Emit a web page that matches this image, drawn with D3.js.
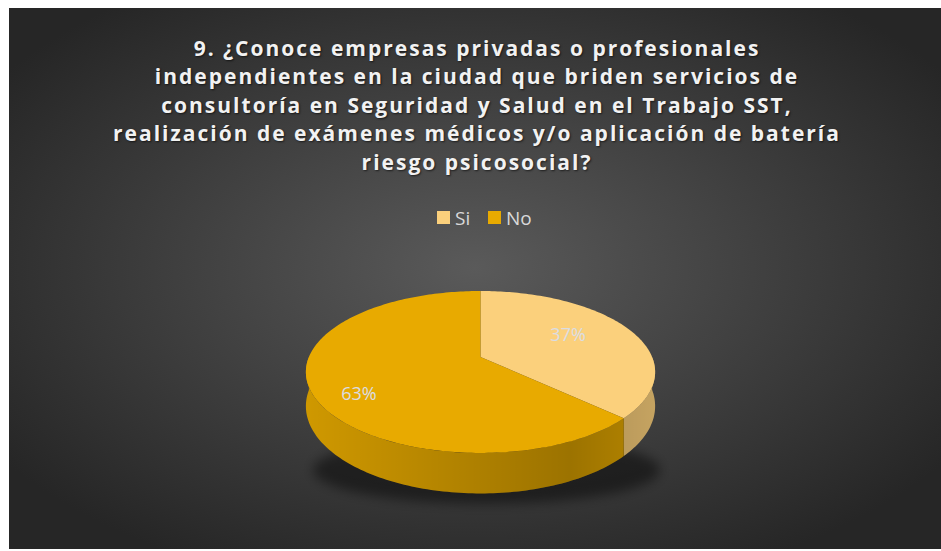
<!DOCTYPE html>
<html>
<head>
<meta charset="utf-8">
<script src="https://cdn.jsdelivr.net/npm/d3@7"></script>
<style>
  body { margin: 0; background: #fff; }
  text { font-family: "Open Sans", sans-serif; }
</style>
</head>
<body>
<div id="chart"></div>
<script>
// Chart data
const categories = ["Si", "No"];
const values = [37, 63];
const titleLines = [
    "9. ¿Conoce empresas privadas o profesionales",
    "independientes en la ciudad que briden servicios de",
    "consultoría en Seguridad y Salud en el Trabajo SST,",
    "realización de exámenes médicos y/o aplicación de batería",
    "riesgo psicosocial?"
];

// Colours per category
const colors = d3.scaleOrdinal()
    .domain(categories)
    .range(["#fbd07c", "#e8aa00"]);

// Set up dimensions
const width = 941;
const height = 551;

const svg = d3.select("#chart")
    .append("svg")
    .attr("width", width)
    .attr("height", height);

const defs = svg.append("defs");

// Background gradient
const bg = defs.append("radialGradient")
    .attr("id", "bg")
    .attr("cx", "50%").attr("cy", "48%").attr("r", "62%");
bg.append("stop").attr("offset", "0%").attr("stop-color", "#5a5a5a");
bg.append("stop").attr("offset", "100%").attr("stop-color", "#262626");

// Side shading (darker toward the right)
const sideShade = defs.append("linearGradient")
    .attr("id", "sideShade")
    .attr("gradientUnits", "userSpaceOnUse")
    .attr("x1", 300).attr("x2", 660).attr("y1", 0).attr("y2", 0);
sideShade.append("stop").attr("offset", "0%").attr("stop-color", "#000").attr("stop-opacity", 0.0);
sideShade.append("stop").attr("offset", "75%").attr("stop-color", "#000").attr("stop-opacity", 0.25);
sideShade.append("stop").attr("offset", "100%").attr("stop-color", "#000").attr("stop-opacity", 0.12);

const blur = defs.append("filter").attr("id", "blur")
    .attr("x", "-20%").attr("y", "-50%").attr("width", "140%").attr("height", "200%");
blur.append("feGaussianBlur").attr("stdDeviation", 6);

svg.append("rect")
    .attr("x", 9).attr("y", 8)
    .attr("width", width - 9).attr("height", height - 10)
    .attr("fill", "url(#bg)");

// Title
svg.append("g")
    .selectAll("text")
    .data(titleLines)
    .enter().append("text")
    .attr("x", 477)
    .attr("y", (d, i) => 56 + i * 28.4)
    .attr("text-anchor", "middle")
    .attr("fill", "#f2f2f2")
    .attr("font-size", 21)
    .attr("font-weight", "bold")
    .attr("letter-spacing", 2)
    .style("text-shadow", "1px 1px 2px rgba(0,0,0,0.6)")
    .text(d => d);

// Legend
const legend = svg.append("g");
const legendX = d3.scalePoint().domain(categories).range([437, 488]);
legend.selectAll("rect")
    .data(categories)
    .enter().append("rect")
    .attr("x", d => legendX(d))
    .attr("y", 211)
    .attr("width", 13).attr("height", 13)
    .attr("fill", d => colors(d));
legend.selectAll("text")
    .data(categories)
    .enter().append("text")
    .attr("x", d => legendX(d) + 18)
    .attr("y", 225)
    .attr("fill", "#d9d9d9")
    .attr("font-size", 19)
    .text(d => d);

// 3D pie geometry
const cx = 480.5, cy = 357;
const rx = 171.6, ry = 78.2;
const persp = 0.185;
const depth = 33;

function proj(theta, f, dz) {
    const x = Math.sin(theta) * f;
    const z = -Math.cos(theta) * f;
    const s = 1 / (1 - persp * z);
    return [cx + rx * x * s, cy + ry * z * s + dz * s];
}

function arcPoints(a0, a1, dz) {
    const n = Math.max(2, Math.ceil((a1 - a0) / 0.02));
    return d3.range(n + 1).map(i => proj(a0 + (a1 - a0) * i / n, 1, dz));
}

const pie = d3.pie().sort(null).value(d => d.value);
const slices = pie(categories.map((c, i) => ({ name: c, value: values[i] })));

const line = d3.line();

// Shadow under the pie
svg.append("ellipse")
    .attr("cx", cx + 6).attr("cy", 470)
    .attr("rx", rx + 2).attr("ry", 34)
    .attr("fill", "rgba(0,0,0,0.45)")
    .attr("filter", "url(#blur)");

// Sides (front half only)
const sides = slices.filter(d => d.endAngle > Math.PI / 2 && d.startAngle < 3 * Math.PI / 2)
    .map(d => {
        const t0 = Math.max(d.startAngle, Math.PI / 2);
        const t1 = Math.min(d.endAngle, 3 * Math.PI / 2);
        const pts = arcPoints(t0, t1, 0).concat(arcPoints(t0, t1, depth).reverse());
        return { d, pts };
    });

const sideG = svg.append("g");
sideG.selectAll("path.side")
    .data(sides)
    .enter().append("path")
    .attr("class", "side")
    .attr("d", s => line(s.pts) + "Z")
    .attr("fill", s => d3.color(colors(s.d.data.name)).darker(0.3));
sideG.selectAll("path.shade")
    .data(sides)
    .enter().append("path")
    .attr("class", "shade")
    .attr("d", s => line(s.pts) + "Z")
    .attr("fill", "url(#sideShade)");

// Top faces
svg.append("g")
    .selectAll("path")
    .data(slices)
    .enter().append("path")
    .attr("d", d => line([[cx, cy]].concat(arcPoints(d.startAngle, d.endAngle, 0))) + "Z")
    .attr("fill", d => colors(d.data.name));

// Data labels
const labelRadius = [0.58, 0.73];
const labelDy = [-6, 12];
svg.append("g")
    .selectAll("text")
    .data(slices)
    .enter().append("text")
    .attr("x", (d, i) => proj((d.startAngle + d.endAngle) / 2, labelRadius[i], 0)[0])
    .attr("y", (d, i) => proj((d.startAngle + d.endAngle) / 2, labelRadius[i], 0)[1] + labelDy[i])
    .attr("text-anchor", "middle")
    .attr("dominant-baseline", "central")
    .attr("fill", "#dadde3")
    .attr("font-size", 18)
    .text(d => d.data.value + "%");
</script>
</body>
</html>
